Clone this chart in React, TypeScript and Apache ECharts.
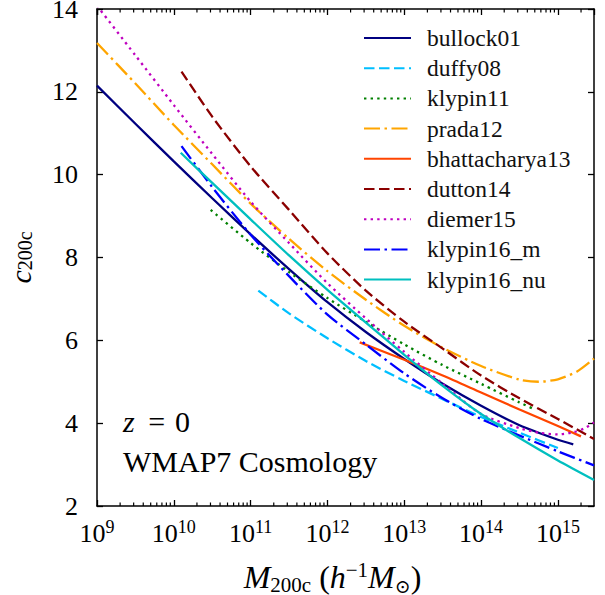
import React, { useEffect, useRef } from 'react';
import * as echarts from 'echarts';

// ---- data (log10 of M200c in h^-1 Msun, and c200c) ----
const seriesNames = ['bullock01', 'duffy08', 'klypin11', 'prada12', 'bhattacharya13', 'dutton14', 'diemer15', 'klypin16_m', 'klypin16_nu'];

const logM_bullock01 = [9, 9.5, 10, 10.5, 11, 11.5, 12, 12.5, 13, 13.5, 14, 14.5, 15, 15.2];
const c_bullock01 = [12.15, 11.23, 10.32, 9.43, 8.56, 7.72, 6.92, 6.2, 5.55, 4.95, 4.42, 3.95, 3.6, 3.49];

const logM_duffy08 = [11.1, 11.5, 12, 12.5, 13, 13.5, 14, 14.5, 15];
const c_duffy08 = [7.2, 6.65, 6.05, 5.5, 5.02, 4.58, 4.15, 3.77, 3.4];

const logM_klypin11 = [10.48, 11, 11.5, 12, 12.5, 13, 13.5, 14, 14.5, 14.7];
const c_klypin11 = [9.15, 8.35, 7.65, 7.02, 6.45, 5.9, 5.4, 4.95, 4.5, 4.33];

const logM_prada12 = [9, 9.5, 10, 10.5, 11, 11.5, 12, 12.5, 13, 13.5, 14, 14.5, 14.75, 15, 15.25, 15.47];
const c_prada12 = [13.18, 12.2, 11.2, 10.25, 9.3, 8.45, 7.67, 6.98, 6.35, 5.82, 5.38, 5.05, 5.0, 5.06, 5.25, 5.56];

const logM_bhattacharya13 = [12.42, 13, 13.5, 14, 14.5, 15, 15.3];
const c_bhattacharya13 = [5.95, 5.53, 5.15, 4.74, 4.33, 3.93, 3.68];

const logM_dutton14 = [10.1, 10.5, 11, 11.5, 12, 12.5, 13, 13.5, 14, 14.5, 15, 15.47];
const c_dutton14 = [12.49, 11.4, 10.2, 9.15, 8.1, 7.2, 6.45, 5.8, 5.15, 4.6, 4.1, 3.62];

const logM_diemer15 = [9, 9.5, 10, 10.5, 11, 11.5, 12, 12.5, 13, 13.5, 14, 14.5, 14.75, 15, 15.2, 15.35, 15.47];
const c_diemer15 = [14.08, 12.88, 11.68, 10.5, 9.35, 8.35, 7.38, 6.53, 5.72, 4.95, 4.22, 3.88, 3.77, 3.73, 3.78, 3.88, 4.02];

const logM_klypin16_m = [10.1, 10.5, 11, 11.5, 12, 12.5, 13, 13.5, 14, 14.5, 15, 15.47];
const c_klypin16_m = [10.69, 9.7, 8.55, 7.55, 6.62, 5.9, 5.2, 4.6, 4.1, 3.7, 3.32, 2.98];

const logM_klypin16_nu = [10.09, 10.5, 11, 11.5, 12, 12.5, 13, 13.5, 14, 14.5, 15, 15.47];
const c_klypin16_nu = [10.53, 9.8, 8.92, 8.05, 7.22, 6.43, 5.65, 4.9, 4.22, 3.64, 3.1, 2.63];

const xMin = 1e9;
const xMax = 2.95e15;
const yMin = 2;
const yMax = 14;
const yInterval = 2;
const majorExponents = [9, 10, 11, 12, 13, 14, 15];
const minorMultipliers = [2, 3, 4, 5, 6, 7, 8, 9];

const FONT = "'Liberation Serif', 'DejaVu Serif', serif";

export default function App() {
  const ref = useRef<HTMLDivElement>(null);

  useEffect(() => {
    const chart = echarts.init(ref.current!, null, { renderer: 'svg' });

    const styles: Record<string, { color: string; type: any }> = {
      bullock01: { color: '#000080', type: 'solid' },
      duffy08: { color: '#00BFFF', type: [10.5, 4.5] },
      klypin11: { color: '#008000', type: [2.4, 4.2] },
      prada12: { color: '#FFA500', type: [16, 4.5, 2.5, 4.5] },
      bhattacharya13: { color: '#FF4500', type: 'solid' },
      dutton14: { color: '#8B0000', type: [10.5, 4.5] },
      diemer15: { color: '#BF00BF', type: [2.4, 4.2] },
      klypin16_m: { color: '#0000FF', type: [16, 4.5, 2.5, 4.5] },
      klypin16_nu: { color: '#00BFBF', type: 'solid' },
    };

    const dataSets: Record<string, [number[], number[]]> = {
      bullock01: [logM_bullock01, c_bullock01],
      duffy08: [logM_duffy08, c_duffy08],
      klypin11: [logM_klypin11, c_klypin11],
      prada12: [logM_prada12, c_prada12],
      bhattacharya13: [logM_bhattacharya13, c_bhattacharya13],
      dutton14: [logM_dutton14, c_dutton14],
      diemer15: [logM_diemer15, c_diemer15],
      klypin16_m: [logM_klypin16_m, c_klypin16_m],
      klypin16_nu: [logM_klypin16_nu, c_klypin16_nu],
    };

    const lineSeries = seriesNames.map((name) => {
      const [lm, cc] = dataSets[name];
      return {
        name,
        type: 'line',
        xAxisIndex: 0,
        yAxisIndex: 0,
        data: lm.map((v, i) => [Math.pow(10, v), cc[i]]),
        symbol: 'none',
        showSymbol: false,
        smooth: 0.25,
        color: styles[name].color,
        itemStyle: { color: styles[name].color },
        lineStyle: { color: styles[name].color, width: 2.3, type: styles[name].type },
        clip: true,
        silent: true,
        z: 3,
      };
    });

    const minorTickData: number[][] = [];
    majorExponents.forEach((e) => {
      minorMultipliers.forEach((k) => {
        const v = k * Math.pow(10, e);
        if (v < xMax) minorTickData.push([v, yMin]);
      });
    });

    const minorSeries = {
      name: 'minorTicks',
      type: 'custom',
      xAxisIndex: 0,
      yAxisIndex: 0,
      silent: true,
      clip: false,
      z: 5,
      data: minorTickData,
      renderItem: (params: any, api: any) => {
        const v = api.value(0);
        const b = api.coord([v, yMin]);
        const t = api.coord([v, yMax]);
        return {
          type: 'group',
          children: [
            { type: 'line', shape: { x1: b[0], y1: b[1], x2: b[0], y2: b[1] - 3.5 }, style: { stroke: '#000', lineWidth: 1.2 } },
            { type: 'line', shape: { x1: t[0], y1: t[1], x2: t[0], y2: t[1] + 3.5 }, style: { stroke: '#000', lineWidth: 1.2 } },
          ],
        };
      },
    };

    const axisLine = { show: true, lineStyle: { color: '#000', width: 1.5 } };
    const majorTick = { show: true, inside: true, length: 6, lineStyle: { color: '#000', width: 1.3 } };

    const option: any = {
      animation: false,
      backgroundColor: '#fff',
      textStyle: { fontFamily: FONT, color: '#000' },
      grid: { left: 97, right: 11, top: 9, bottom: 89, containLabel: false, outerBoundsMode: 'none' },
      legend: {
        data: seriesNames.map((n) => ({ name: n, textStyle: { fontFamily: FONT } })),
        orient: 'vertical',
        left: 363,
        top: 26,
        padding: 0,
        itemWidth: 47,
        itemHeight: 22,
        itemGap: 6.2,
        selectedMode: false,
        itemStyle: { opacity: 0 },
        formatter: (name: string) => `{t|${name}}`,
        textStyle: {
          fontFamily: FONT,
          fontSize: 23.5,
          color: '#111',
          rich: {
            t: { fontFamily: FONT, fontSize: 23.5, color: '#111', lineHeight: 22, padding: [0, 0, 0, 11] },
          },
        },
      },
      xAxis: [
        {
          type: 'log',
          logBase: 10,
          min: xMin,
          max: xMax,
          position: 'bottom',
          axisLine,
          axisTick: majorTick,
          minorTick: { show: false },
          splitLine: { show: false },
          axisLabel: {
            margin: 12,
            showMinLabel: true,
            showMaxLabel: false,
            formatter: (value: number) => {
              const e = Math.log10(value);
              const r = Math.round(e);
              if (Math.abs(e - r) > 1e-6) return '';
              return `{b|10}{s|${r}}`;
            },
            rich: {
              b: { fontFamily: FONT, fontSize: 26, color: '#000', lineHeight: 30 },
              s: { fontFamily: FONT, fontSize: 18, color: '#000', lineHeight: 18, verticalAlign: 'top' },
            },
          },
          name: '{i|M}{s|200c} ({i|h}{p|\u22121}{i|M}{o|\u2299})',
          nameLocation: 'middle',
          nameGap: 53,
          nameTextStyle: {
            padding: [0, 26, 0, 0],
            rich: {
              i: { fontFamily: FONT, fontSize: 32, fontStyle: 'italic', color: '#000', lineHeight: 36 },
              s: { fontFamily: FONT, fontSize: 21, color: '#000', lineHeight: 15, verticalAlign: 'bottom' },
              p: { fontFamily: FONT, fontSize: 21, color: '#000', lineHeight: 18, verticalAlign: 'top' },
              o: { fontFamily: "'DejaVu Serif', serif", fontSize: 19, color: '#000', lineHeight: 15, verticalAlign: 'bottom' },
            },
            fontFamily: FONT,
            fontSize: 32,
            color: '#000',
          },
        },
        {
          type: 'log',
          logBase: 10,
          min: xMin,
          max: xMax,
          position: 'top',
          axisLine,
          axisTick: majorTick,
          axisLabel: { show: false },
          splitLine: { show: false },
        },
      ],
      yAxis: [
        {
          type: 'value',
          min: yMin,
          max: yMax,
          interval: yInterval,
          position: 'left',
          axisLine,
          axisTick: majorTick,
          splitLine: { show: false },
          axisLabel: { margin: 19, fontFamily: FONT, fontSize: 26, lineHeight: 17, color: '#000', padding: [3, 0, 0, 0] },
          name: '{i|c}{s|200c}',
          nameLocation: 'middle',
          nameRotate: 90,
          nameGap: 62,
          nameTextStyle: {
            rich: {
              i: { fontFamily: FONT, fontSize: 30, fontStyle: 'italic', color: '#000', lineHeight: 30 },
              s: { fontFamily: FONT, fontSize: 20, color: '#000', lineHeight: 14, verticalAlign: 'bottom' },
            },
          },
        },
        {
          type: 'value',
          min: yMin,
          max: yMax,
          interval: yInterval,
          position: 'right',
          axisLine,
          axisTick: majorTick,
          axisLabel: { show: false },
          splitLine: { show: false },
        },
      ],
      graphic: [
        {
          type: 'text',
          left: 123,
          top: 406,
          style: {
            text: '{i|z}\u2009 = \u200a0',
            rich: { i: { fontFamily: FONT, fontSize: 30, fontStyle: 'italic', fill: '#000' } },
            fontFamily: FONT,
            fontSize: 30,
            fill: '#000',
          },
        },
        {
          type: 'text',
          left: 123,
          top: 446,
          style: { text: 'WMAP7 Cosmology', fontFamily: FONT, fontSize: 30, fill: '#000' },
        },
      ],
      series: [...lineSeries, minorSeries],
    };

    chart.setOption(option);
    return () => chart.dispose();
  }, []);

  return <div ref={ref} style={{ position: 'fixed', left: 0, top: 0, width: 605, height: 595, background: '#fff' }} />;
}
